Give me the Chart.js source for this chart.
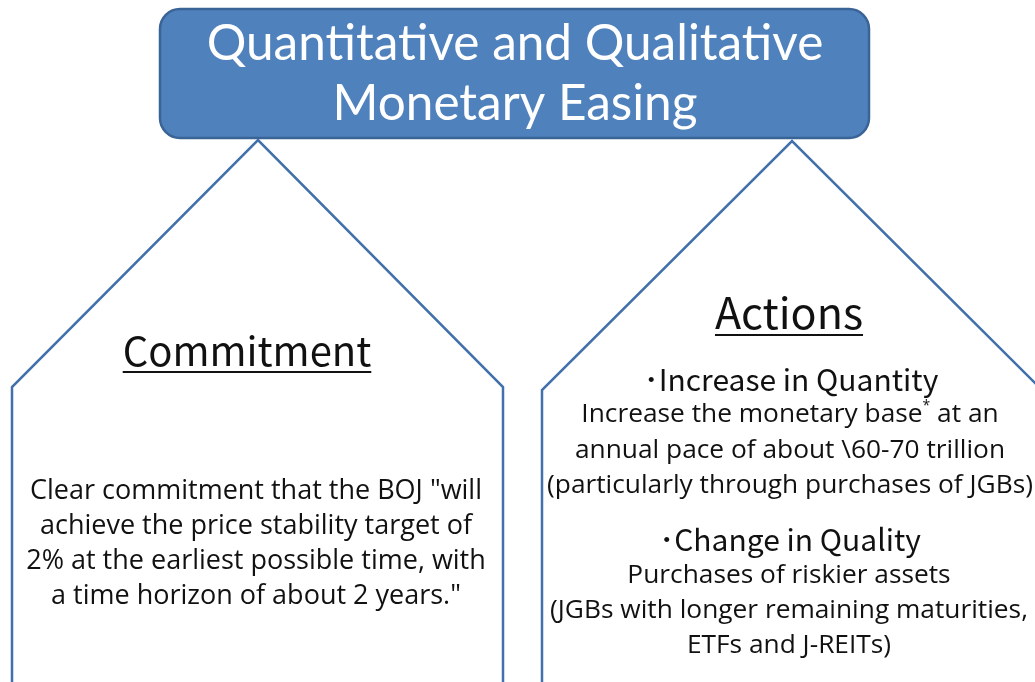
<!DOCTYPE html>
<html>
<head>
<meta charset="utf-8">
<script src="https://cdn.jsdelivr.net/npm/chart.js@4.4.1/dist/chart.umd.min.js"></script>
<style>
  html, body { margin: 0; padding: 0; background: #fff; }
  #wrap { width: 1035px; height: 682px; }
</style>
</head>
<body>
<div id="wrap"><canvas id="diagram" width="1035" height="682"></canvas></div>
<script>
// shape outlines (diagram coordinates, y grows downward)
const leftHouse = [
  { x: 12, y: 700 }, { x: 12, y: 387 }, { x: 258, y: 140 },
  { x: 503, y: 387 }, { x: 503, y: 700 }
];
const rightHouse = [
  { x: 542, y: 700 }, { x: 542, y: 390 }, { x: 792, y: 141 },
  { x: 1042, y: 390 }, { x: 1042, y: 700 }
];
const titleBox = { x0: 160, x1: 869, y0: 9, y1: 138 };

// texts
const titleLines = ['Quantitative and Qualitative', 'Monetary Easing'];
const leftHeading = 'Commitment';
const leftBody = [
  'Clear commitment that the BOJ "will',
  'achieve the price stability target of',
  '2% at the earliest possible time, with',
  'a time horizon of about 2 years."'
];
const rightHeading = 'Actions';
const quantityHead = '\uFF65Increase in Quantity';
const quantityBody = [
  ['Increase the monetary base', '*', ' at an'],
  ['annual pace of about \\60-70 trillion'],
  ['(particularly through purchases of JGBs)']
];
const qualityHead = '\uFF65Change in Quality';
const qualityBody = [
  ['Purchases of riskier assets'],
  ['(JGBs with longer remaining maturities,'],
  ['ETFs and J-REITs)']
];

const lineBlue = '#4170aa';
const boxFill = '#4f81bd';
const boxEdge = '#3b6496';
const headFont = '"Noto Sans CJK JP", "Noto Sans", sans-serif';
const bodyFont = '"Open Sans", "Noto Sans", sans-serif';
const titleFont = 'Lato, "Open Sans", sans-serif';

function drawCentered(ctx, parts, cx, cy, size, family, color) {
  // parts: array of strings; odd index = superscript
  const supSize = Math.round(size * 0.55);
  let total = 0;
  const widths = parts.map((p, i) => {
    ctx.font = (i % 2 ? supSize : size) + 'px ' + family;
    const w = ctx.measureText(p).width;
    total += w;
    return w;
  });
  let x = cx - total / 2;
  ctx.fillStyle = color;
  ctx.textBaseline = 'middle';
  ctx.textAlign = 'left';
  parts.forEach((p, i) => {
    ctx.font = (i % 2 ? supSize : size) + 'px ' + family;
    ctx.fillText(p, x, i % 2 ? cy - size * 0.35 : cy);
    x += widths[i];
  });
  return total;
}

function underlined(ctx, text, cx, cy, size, family, gap) {
  const w = drawCentered(ctx, [text], cx, cy, size, family, '#111');
  ctx.strokeStyle = '#111';
  ctx.lineWidth = 2;
  ctx.beginPath();
  ctx.moveTo(cx - w / 2, cy + gap);
  ctx.lineTo(cx + w / 2, cy + gap);
  ctx.stroke();
}

const annotations = {
  id: 'annotations',
  afterDatasetsDraw(chart) {
    const { ctx, scales: { x, y } } = chart;
    ctx.save();

    // title box
    const bx = x.getPixelForValue(titleBox.x0);
    const by = y.getPixelForValue(titleBox.y0);
    const bw = x.getPixelForValue(titleBox.x1) - bx;
    const bh = y.getPixelForValue(titleBox.y1) - by;
    ctx.beginPath();
    ctx.roundRect(bx, by, bw, bh, 20);
    ctx.fillStyle = boxFill;
    ctx.fill();
    ctx.lineWidth = 2.5;
    ctx.strokeStyle = boxEdge;
    ctx.stroke();

    const tcx = x.getPixelForValue(515);
    drawCentered(ctx, [titleLines[0]], tcx, y.getPixelForValue(44), 49.5, titleFont, '#fff');
    drawCentered(ctx, [titleLines[1]], tcx, y.getPixelForValue(104), 49.5, titleFont, '#fff');

    // left panel
    const lcx = x.getPixelForValue(256);
    underlined(ctx, leftHeading, x.getPixelForValue(247), y.getPixelForValue(351), 40, headFont, 21);
    leftBody.forEach((t, i) => {
      drawCentered(ctx, [t], lcx, y.getPixelForValue(491 + i * 35), 27, bodyFont, '#111');
    });

    // right panel
    underlined(ctx, rightHeading, x.getPixelForValue(789), y.getPixelForValue(313), 43, headFont, 22);
    drawCentered(ctx, [quantityHead], x.getPixelForValue(791), y.getPixelForValue(380), 30, headFont, '#111');
    quantityBody.forEach((t, i) => {
      drawCentered(ctx, t, x.getPixelForValue(790), y.getPixelForValue(415 + i * 35.5), 26.3, bodyFont, '#111');
    });
    drawCentered(ctx, [qualityHead], x.getPixelForValue(790), y.getPixelForValue(540), 30, headFont, '#111');
    qualityBody.forEach((t, i) => {
      drawCentered(ctx, t, x.getPixelForValue(789), y.getPixelForValue(576 + i * 35), 26.3, bodyFont, '#111');
    });

    ctx.restore();
  }
};

const outline = (pts) => ({
  type: 'line',
  data: pts,
  borderColor: lineBlue,
  borderWidth: 2.5,
  borderJoinStyle: 'miter',
  pointRadius: 0,
  fill: false,
  tension: 0
});

new Chart(document.getElementById('diagram'), {
  type: 'scatter',
  data: { datasets: [outline(leftHouse), outline(rightHouse)] },
  options: {
    responsive: false,
    animation: false,
    showLine: true,
    layout: { padding: 0 },
    plugins: { legend: { display: false }, tooltip: { enabled: false } },
    scales: {
      x: { type: 'linear', min: 0, max: 1035, display: false },
      y: { type: 'linear', min: 0, max: 682, reverse: true, display: false }
    }
  },
  plugins: [annotations]
});
</script>
</body>
</html>
